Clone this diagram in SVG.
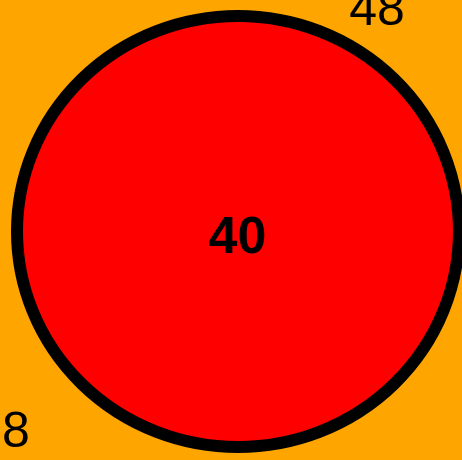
<svg xmlns="http://www.w3.org/2000/svg" width="462" height="460" viewBox="0 0 462 460">
<style>
.lbl{font-family:"Comic Sans MS","Liberation Sans",sans-serif;fill:#000}
</style>
<rect x="0" y="0" width="462" height="460" fill="#FFA500"/>
<g id="node-circle">
<ellipse cx="238" cy="231.5" rx="221" ry="215.5" fill="#FF0000" stroke="#000" stroke-width="12"/>
<text class="lbl" x="237.5" y="253" font-size="52" font-weight="bold" text-anchor="middle">40</text>
</g>
<g id="connectors"></g>
<g id="labels">
<text class="lbl" x="377" y="25" font-size="50" text-anchor="middle">48</text>
<text class="lbl" x="16" y="447" font-size="50" text-anchor="middle">8</text>
</g>
</svg>
